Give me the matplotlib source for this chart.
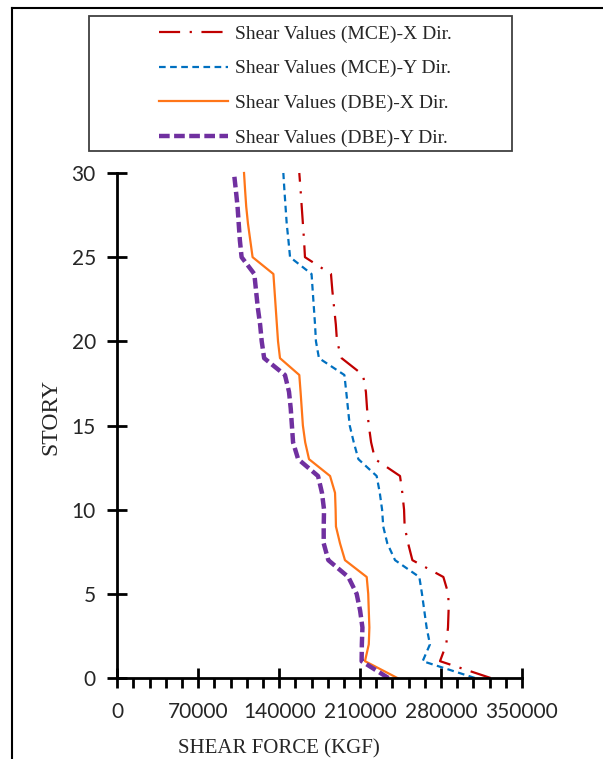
import numpy as np
import matplotlib.pyplot as plt
from matplotlib.lines import Line2D
from matplotlib.patches import Rectangle
from matplotlib.ticker import MultipleLocator

# pisos 0..30
story = np.arange(0, 31)

# cortantes (kgf)
mce_x = [322900, 279100, 284500, 286000, 286500, 286300, 282000, 255200, 251500, 248500,
         248000, 246500, 244500, 222900, 219500, 217500, 216000, 215000, 212500, 194000,
         190000, 189000, 187500, 186000, 184800, 162300, 161500, 160500, 159500, 158500,
         157400]
mce_y = [309300, 264100, 270400, 267500, 265500, 263500, 261200, 240200, 233500, 230000,
         229000, 227000, 224300, 208500, 204500, 201000, 199500, 198000, 196400, 174400,
         171800, 171000, 170000, 169000, 168000, 149400, 148000, 146500, 145500, 144500,
         143600]
dbe_x = [242200, 214200, 217500, 218000, 217500, 217000, 215700, 196900, 192600, 189100,
         188800, 188300, 184000, 165800, 162500, 160500, 159500, 158500, 157400, 140700,
         139000, 138000, 137000, 136000, 135000, 117000, 115000, 113000, 111500, 110500,
         109600]
dbe_y = [234400, 211300, 211500, 212000, 210000, 207000, 199800, 182500, 178500, 178500,
         178800, 177000, 173600, 156400, 152000, 151000, 150000, 148500, 145000, 127000,
         124900, 123500, 121500, 120000, 118500, 107500, 106000, 105000, 104000, 102500,
         100900]

labels = ['Shear Values (MCE)-X Dir.', 'Shear Values (MCE)-Y Dir.',
          'Shear Values (DBE)-X Dir.', 'Shear Values (DBE)-Y Dir.']

W, H = 603, 759
fig = plt.figure(figsize=(W / 100, H / 100), dpi=100)
ax = fig.add_axes([117.3 / W, 1 - 678 / H, 404.7 / W, 505 / H])

l1, = ax.plot(mce_x, story, color='#C00000', lw=1.6, dashes=(9.5, 4.3, 1, 4.3), clip_on=False)
l2, = ax.plot(mce_y, story, color='#0070C0', lw=1.6, dashes=(3, 2), clip_on=False)
l3, = ax.plot(dbe_x, story, color='#FF7518', lw=1.6, clip_on=False)
l4, = ax.plot(dbe_y, story, color='#7030A0', lw=3.2, dashes=(2.4, 1), clip_on=False)

ax.set_xlim(0, 350000)
ax.set_ylim(0, 30)
ax.xaxis.set_major_locator(MultipleLocator(70000))
ax.xaxis.set_minor_locator(MultipleLocator(14000))
ax.yaxis.set_major_locator(MultipleLocator(5))

for s in ['top', 'right']:
    ax.spines[s].set_visible(False)
for s in ['left', 'bottom']:
    ax.spines[s].set_linewidth(2)
    ax.spines[s].set_color('black')

ax.tick_params(which='major', direction='inout', length=15, width=2, color='black')
ax.tick_params(which='minor', direction='out', length=7, width=2, color='black')
ax.tick_params(axis='y', pad=8)
ax.tick_params(axis='x', pad=10)
for t in ax.get_xticklabels() + ax.get_yticklabels():
    t.set_fontfamily('Lato')
    t.set_fontsize(15)
    t.set_color('#262626')

ax.set_xlabel('SHEAR FORCE (KGF)', family='Liberation Serif', fontsize=15, color='#262626')
ax.set_ylabel('STORY', family='Liberation Serif', fontsize=17, color='#262626')
ax.xaxis.set_label_coords(0.40, -0.14)
ax.yaxis.set_label_coords(-0.165, 0.517)
ax.xaxis.label.set_va('center')
ax.yaxis.label.set_va('center')

# marco exterior (recortado en la imagen original)
fig.add_artist(Line2D([12 / W, 12 / W], [0, 1 - 7.5 / H], transform=fig.transFigure,
                      color='black', lw=1.5))
fig.add_artist(Line2D([12 / W, 1], [1 - 7.5 / H, 1 - 7.5 / H], transform=fig.transFigure,
                      color='black', lw=1.5))

# caja de la leyenda
fig.add_artist(Rectangle((89 / W, 1 - 151 / H), (512 - 89) / W, (151 - 16) / H,
                         transform=fig.transFigure, fill=False, edgecolor='#404040', lw=1.3))
leg = fig.legend([l1, l2, l3, l4], labels, loc='upper left',
                 bbox_to_anchor=(159 / W, 1 - 25 / H), frameon=False,
                 borderpad=0, borderaxespad=0, handlelength=3.55, handletextpad=0.36,
                 labelspacing=0.88, prop={'family': 'Liberation Serif', 'size': 14})
for t in leg.get_texts():
    t.set_color('#262626')

fig.savefig('out.png', dpi=100)
